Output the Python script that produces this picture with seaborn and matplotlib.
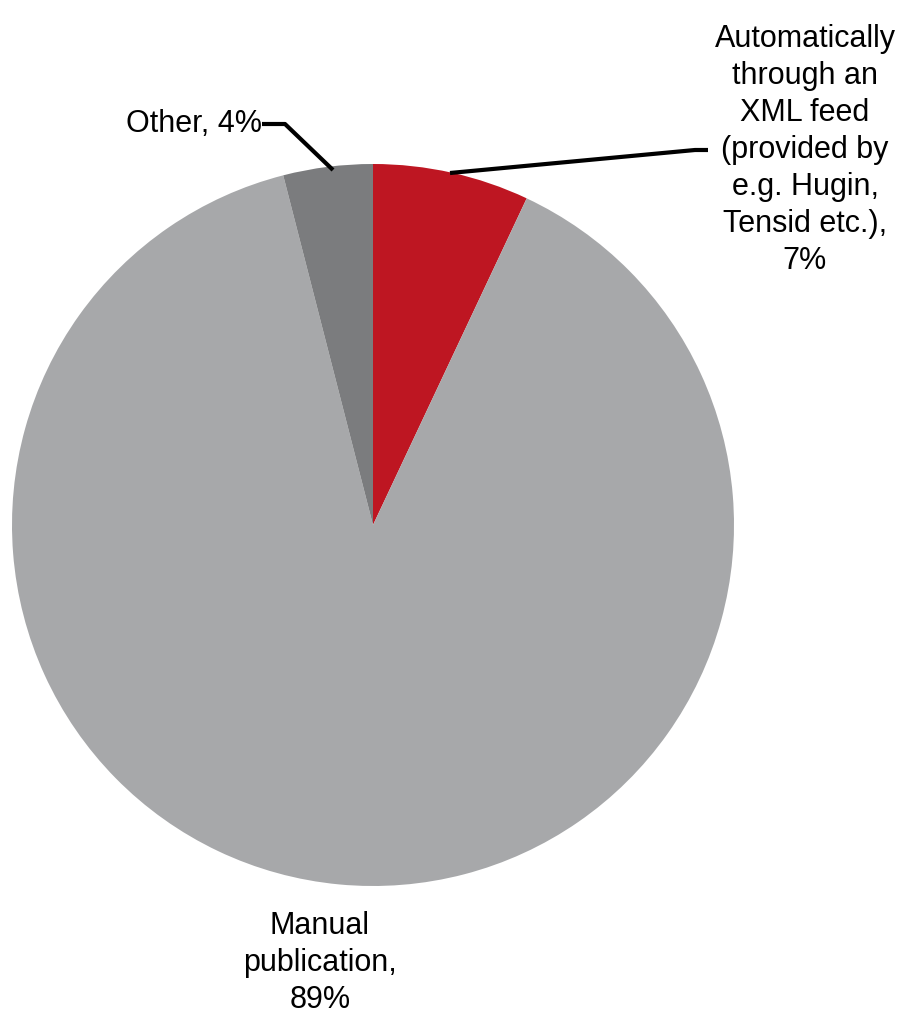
import matplotlib
matplotlib.use("Agg")
import matplotlib.pyplot as plt
import seaborn as sns

categories = ["Automatically through an XML feed (provided by e.g. Hugin, Tensid etc.)",
              "Manual publication", "Other"]
values = [7, 89, 4]
labels = ["Automatically\nthrough an\nXML feed\n(provided by\ne.g. Hugin,\nTensid etc.),\n7%",
          "Manual\npublication,\n89%",
          "Other, 4%"]
colors = ["#BE1622", "#A7A8AA", "#7B7C7E"]

sns.set_theme(style="white")
plt.rcParams['font.family'] = ['Liberation Sans', 'DejaVu Sans']

W, H = 902, 1021
fig = plt.figure(figsize=(W / 100, H / 100), dpi=100)
cx, cy, r = 373, 525, 361
ax = fig.add_axes([(cx - r) / W, (H - cy - r) / H, 2 * r / W, 2 * r / H])
ax.pie(values, colors=colors, startangle=90, counterclock=False, radius=1,
       wedgeprops=dict(linewidth=0))
ax.set_xlim(-1, 1)
ax.set_ylim(-1, 1)
ax.set_aspect("equal")
ax.axis("off")

def d(px, py):
    return ((px - cx) / r, (cy - py) / r)

fs = 22
ls = 1.3
# Automatically label
pts = [d(450, 173), d(695, 150), d(708, 150)]
ax.plot([p[0] for p in pts], [p[1] for p in pts], color="black", lw=3, clip_on=False,
        solid_capstyle="butt")
x, y = d(805, 150)
ax.text(x, y, labels[0], ha="center", va="center", fontsize=fs, linespacing=ls,
        color="black")
# Other label
pts = [d(333, 170), d(285, 124), d(262, 124)]
ax.plot([p[0] for p in pts], [p[1] for p in pts], color="black", lw=3, clip_on=False,
        solid_capstyle="butt")
x, y = d(262, 124)
ax.text(x, y, labels[2], ha="right", va="center", fontsize=fs, color="black")
# Manual label
x, y = d(320, 963)
ax.text(x, y, labels[1], ha="center", va="center", fontsize=fs, linespacing=ls,
        color="black")

fig.savefig("out.png", dpi=100)
